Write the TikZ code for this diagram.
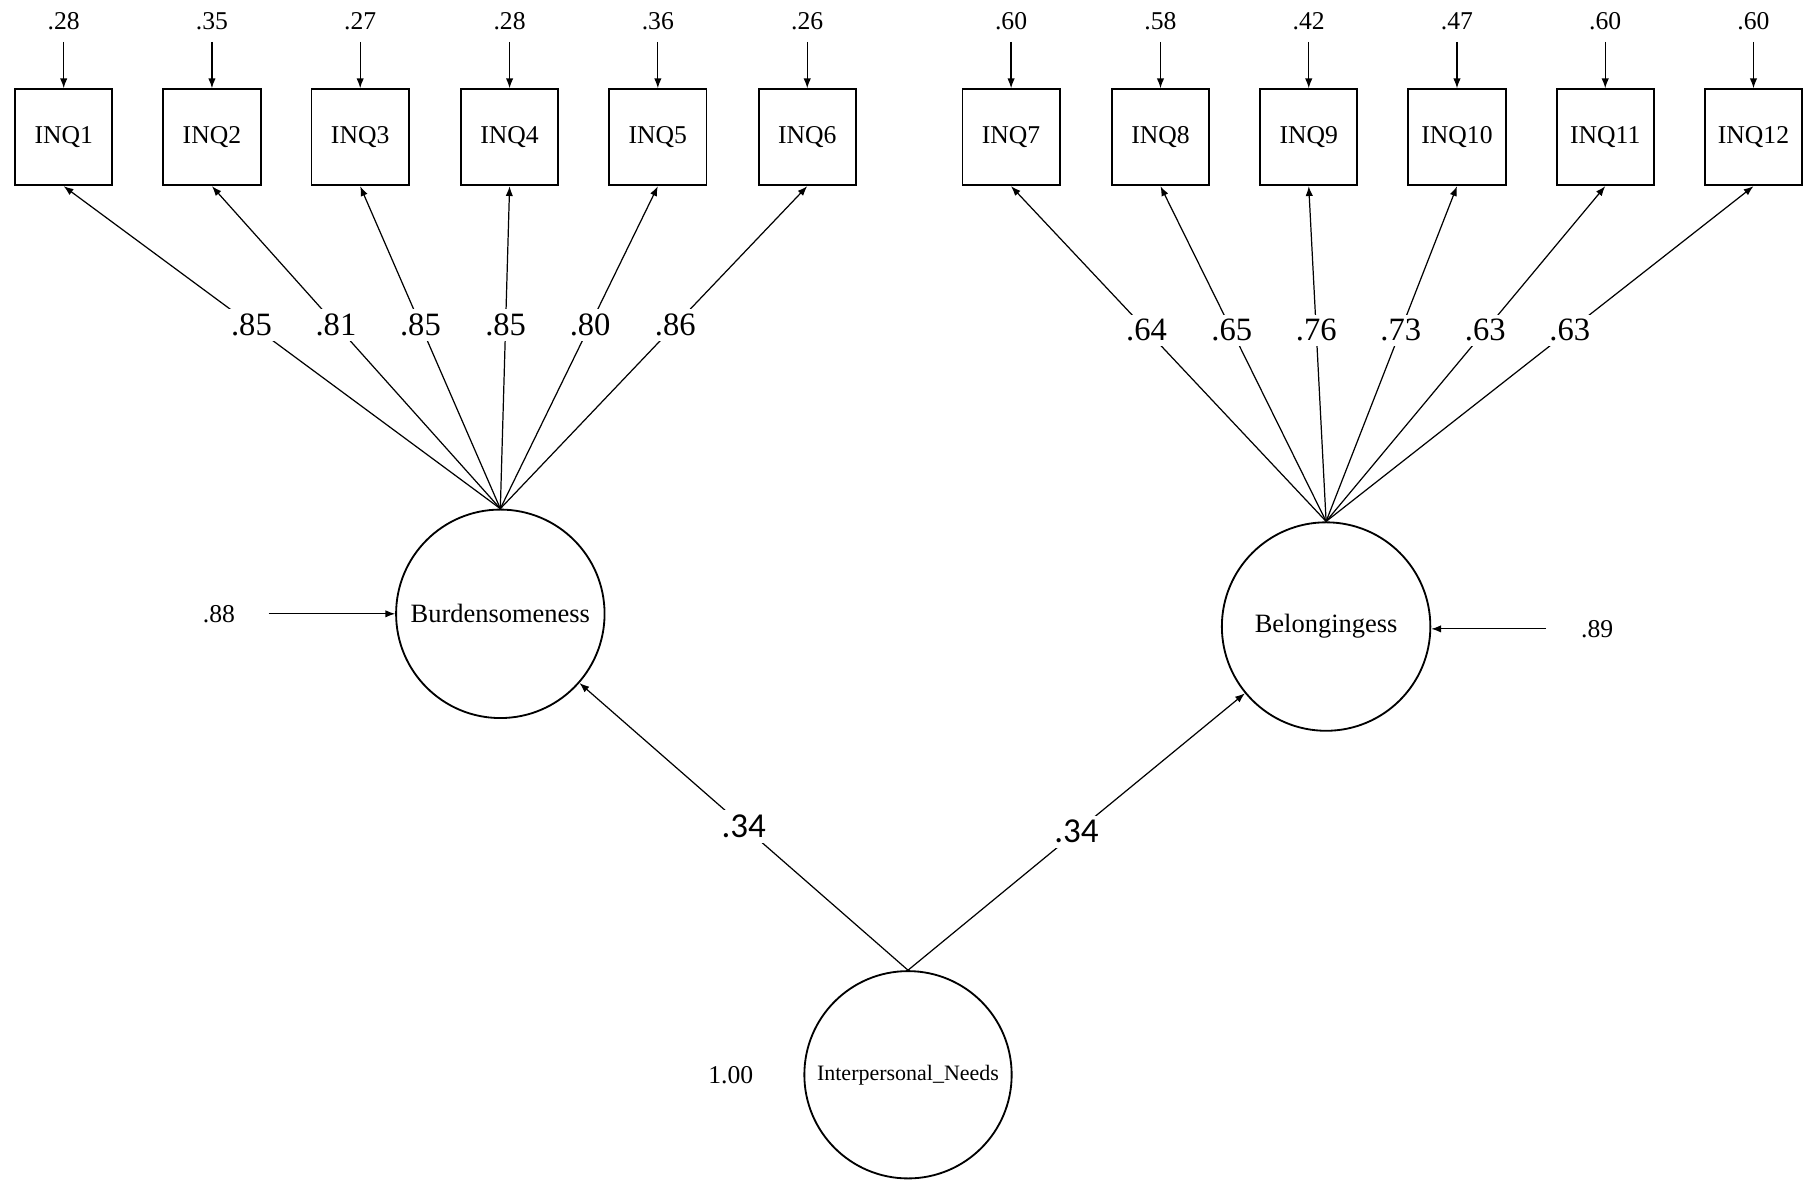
\documentclass[tikz,border=0pt]{standalone}
\usepackage{fontspec}
\setmainfont{Liberation Serif}
\newfontfamily\pathfont{Carlito}
\usetikzlibrary{arrows.meta}
\usetikzlibrary{positioning}

\begin{document}
\begin{tikzpicture}[
        indicator/.style={draw, line width=0.45pt, minimum width=0.84cm, minimum height=0.83cm, inner sep=0pt, font=\fontsize{6.3}{7}\selectfont},
        latent/.style={draw, circle, line width=0.45pt, minimum size=1.8cm, inner sep=0pt, font=\fontsize{6.5}{7}\selectfont},
        errlabel/.style={inner sep=0.1cm, font=\fontsize{6.3}{7}\selectfont},
        loading/.style={fill=white, inner sep=0.04cm, font=\fontsize{8}{9}\selectfont},
        arr/.style={-{Latex[length=2.4pt,width=1.8pt]}, line width=0.3pt},
    ]
            % Page size
            \useasboundingbox (0,0) rectangle (15.68,10.31);

            % Items and their error terms
            \foreach \n/\x/\val in {1/0.55/.28, 2/1.83/.35, 3/3.11/.27, 4/4.40/.28, 5/5.68/.36, 6/6.97/.26,
                                    7/8.73/.60, 8/10.02/.58, 9/11.30/.42, 10/12.58/.47, 11/13.86/.60, 12/15.14/.60}
            {
                \node [indicator] (inq\n) at (\x, 9.125) {INQ\n};
                \node [errlabel, above=0.4cm of inq\n] (err\n) {\val};
                \draw [arr] (err\n.south) -- (inq\n.north);
            }

            % Latent factors
            \node [latent] (burd) at (4.32, 5.01) {Burdensomeness};
            \node [latent] (belong) at (11.45, 4.90) {Belongingess};
            \node [latent, minimum size=1.79cm, font=\fontsize{5.4}{6}\selectfont] (need) at (7.84, 1.03) {Interpersonal\_Needs};

            % Loadings
            \foreach \n/\val in {1/.85, 2/.81, 3/.85, 4/.85, 5/.80, 6/.86}
                \draw [arr] (burd.north) -- node[loading, pos=0.57] {\val} (inq\n.south);
            \foreach \n/\val in {7/.64, 8/.65, 9/.76, 10/.73, 11/.63, 12/.63}
                \draw [arr] (belong.north) -- node[loading, pos=0.57] {\val} (inq\n.south);

            % Residuals of the factors
            \node [errlabel, inner sep=0pt] (resburd) at (1.89, 5.01) {.88};
            \coordinate (resburdstart) at (2.32, 5.01);
            \draw [arr] (resburdstart) -- (burd.west);
            \node [errlabel, inner sep=0pt] (resbelong) at (13.79, 4.88) {.89};
            \coordinate (resbelongstart) at (13.35, 4.88);
            \draw [arr] (resbelongstart) -- (belong.east |- resbelongstart);
            \node [errlabel, inner sep=0pt] (resneed) at (6.31, 1.03) {1.00};

            % Second order paths
            \draw [arr] (need.north) -- node[loading, pos=0.5, font=\pathfont\fontsize{8.6}{10}\selectfont] {.34} (burd);
            \draw [arr] (need.north) -- node[loading, pos=0.5, font=\pathfont\fontsize{8.6}{10}\selectfont] {.34} (belong);
        \end{tikzpicture}
\end{document}
